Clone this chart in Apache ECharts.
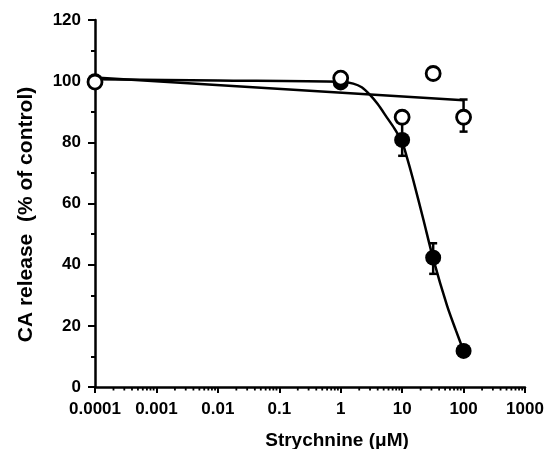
<!DOCTYPE html>
<html>
<head>
<meta charset="utf-8">
<script src="https://cdn.jsdelivr.net/npm/echarts@6/dist/echarts.min.js"></script>
<style>
  html, body { margin: 0; padding: 0; background: #fff; }
  #chart { width: 550px; height: 449px; }
</style>
</head>
<body>
<div id="chart"></div>
<script>
// x tick labels (log axis, 0.0001 .. 1000)
const xTickLabels = ['0.0001', '0.001', '0.01', '0.1', '1', '10', '100', '1000']

// open circles
const openX = [0.0001, 1, 10, 32, 100]
const openY = [99.7, 101, 88.2, 102.5, 88.2]
// filled circles
const filledX = [0.0001, 1, 10, 32, 100]
const filledY = [100, 99.6, 80.8, 42.3, 11.8]

// error bars [x, low, high]
const openErr = [[100, 83.5, 94]]
const filledErr = [[10, 75.6, 86.4], [32, 37, 47]]

// fitted lines
const openFitX = [0.0001, 100]
const openFitY = [101.2, 93.8]
const filledFitX = [0.0001, 0.01, 1, 1.6, 2.2, 3, 4, 5.7, 7.5, 10, 12, 15, 22, 32, 54, 75, 100]
const filledFitY = [100.6, 100.2, 99.8, 99.2, 98, 95.5, 92.5, 88, 84.5, 80, 75, 68, 55, 42, 26.5, 18.5, 11.8]

// minor tick positions of the log axis (2..9 in every decade)
const minorTicks = []
for (let d = -4; d < 3; d++) {
  for (let m = 2; m < 10; m++) minorTicks.push([m * Math.pow(10, d), 0])
}

const zip = (xs, ys) => xs.map((x, i) => [x, ys[i]])
const font = 'Liberation Sans, Arial, sans-serif'

const chart = echarts.init(document.getElementById('chart'))

const errSeries = (data) => ({
  type: 'custom',
  data: data,
  clip: false,
  z: 3,
  renderItem: (params, api) => {
    const x = api.value(0)
    const lo = api.coord([x, api.value(1)])
    const hi = api.coord([x, api.value(2)])
    const w = 4
    const style = { stroke: '#000', lineWidth: 2.5 }
    return {
      type: 'group',
      children: [
        { type: 'line', shape: { x1: lo[0], y1: lo[1], x2: hi[0], y2: hi[1] }, style },
        { type: 'line', shape: { x1: lo[0] - w, y1: lo[1], x2: lo[0] + w, y2: lo[1] }, style },
        { type: 'line', shape: { x1: hi[0] - w, y1: hi[1], x2: hi[0] + w, y2: hi[1] }, style }
      ]
    }
  }
})

const option = {
  animation: false,
  grid: { left: 95, right: 25, top: 20, bottom: 62, outerBoundsMode: 'none' },
  xAxis: {
    type: 'log',
    logBase: 10,
    min: 0.0001,
    max: 1000,
    name: 'Strychnine (μM)',
    nameLocation: 'middle',
    nameGap: 44,
    nameTextStyle: { fontFamily: font, fontWeight: 'bold', fontSize: 19, color: '#000', padding: [0, 0, 0, 54] },
    axisLine: { onZero: false, lineStyle: { color: '#000', width: 2.5 } },
    axisTick: { length: 6, lineStyle: { color: '#000', width: 2 } },
    splitLine: { show: false },
    axisLabel: {
      color: '#000',
      fontFamily: font,
      fontWeight: 'bold',
      fontSize: 17,
      margin: 14,
      formatter: (v) => xTickLabels[Math.round(Math.log10(v)) + 4]
    }
  },
  yAxis: {
    type: 'value',
    min: 0,
    max: 120,
    interval: 20,
    name: 'CA release  (% of control)',
    nameLocation: 'middle',
    nameGap: 58,
    nameTextStyle: { fontFamily: font, fontWeight: 'bold', fontSize: 21, color: '#000', padding: [0, 22, 0, 0] },
    axisLine: { show: true, lineStyle: { color: '#000', width: 2.5 } },
    axisTick: { length: 7, lineStyle: { color: '#000', width: 2 } },
    minorTick: { show: true, splitNumber: 2, length: 4, lineStyle: { color: '#000', width: 2 } },
    splitLine: { show: false },
    axisLabel: { color: '#000', fontFamily: font, fontWeight: 'bold', fontSize: 17, margin: 14 }
  },
  series: [
    {
      type: 'custom',
      data: minorTicks,
      clip: false,
      silent: true,
      renderItem: (params, api) => {
        const p = api.coord([api.value(0), 0])
        return {
          type: 'line',
          shape: { x1: p[0], y1: p[1], x2: p[0], y2: p[1] + 3.5 },
          style: { stroke: '#000', lineWidth: 1.8 }
        }
      }
    },
    {
      type: 'line',
      data: zip(openFitX, openFitY),
      showSymbol: false,
      lineStyle: { color: '#000', width: 2.5 },
      z: 2
    },
    {
      type: 'line',
      data: zip(filledFitX, filledFitY),
      smooth: 0.3,
      showSymbol: false,
      lineStyle: { color: '#000', width: 2.5 },
      z: 2
    },
    errSeries(filledErr),
    errSeries(openErr),
    {
      type: 'scatter',
      data: zip(filledX, filledY),
      symbolSize: 16,
      itemStyle: { color: '#000', borderColor: '#000', borderWidth: 0, opacity: 1 },
      z: 4
    },
    {
      type: 'scatter',
      data: zip(openX, openY),
      symbolSize: 14,
      itemStyle: { color: '#fff', borderColor: '#000', borderWidth: 2.8, opacity: 1 },
      z: 5
    }
  ]
}

chart.setOption(option)
</script>
</body>
</html>
